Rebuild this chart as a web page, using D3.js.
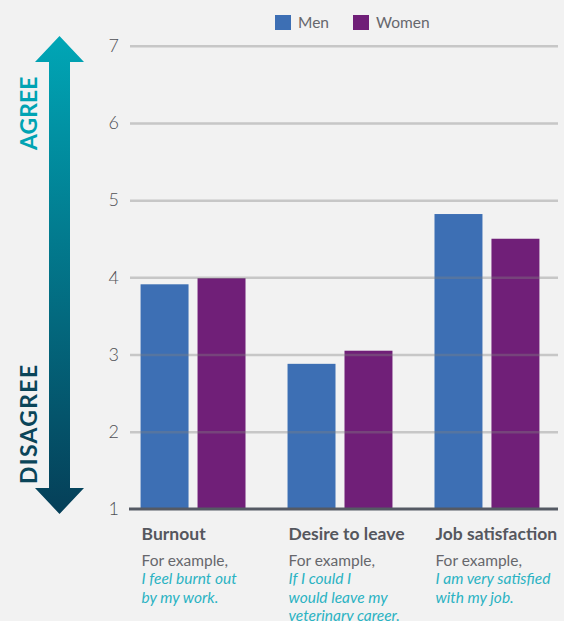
<!DOCTYPE html>
<html>
<head>
<meta charset="utf-8">
<script src="https://cdn.jsdelivr.net/npm/d3@7"></script>
<style>
  html, body { margin: 0; padding: 0; background: #f2f2f2; }
  svg { display: block; font-family: Lato, "Open Sans", sans-serif; }
</style>
</head>
<body>
<svg width="564" height="621"></svg>
<script>
  var categories = ["Burnout", "Desire to leave", "Job satisfaction"];
  var series = ["Men", "Women"];
  var men = [3.91, 2.88, 4.82];
  var women = [3.99, 3.05, 4.50];
  var yTicks = [1, 2, 3, 4, 5, 6, 7];
  var examples = [
    ["I feel burnt out", "by my work."],
    ["If I could I", "would leave my", "veterinary career."],
    ["I am very satisfied", "with my job."]
  ];

  var colors = { Men: "#3d6fb4", Women: "#701f78" };

  var svg = d3.select("svg");

  var x0 = d3.scaleBand().domain(categories).range([120, 560]).paddingInner(0.286).paddingOuter(0.14);
  var x1 = d3.scaleBand().domain(series).range([0, x0.bandwidth()]).paddingInner(0.158);
  var y = d3.scaleLinear().domain([1, 7]).range([509, 45.7]);

  var rows = categories.map(function(c, i) { return { cat: c, values: [men[i], women[i]] }; });

  // bars
  var groups = svg.selectAll("g.group").data(rows).enter()
      .append("g")
      .attr("transform", function(d) { return "translate(" + x0(d.cat) + ",0)"; });

  groups.selectAll("rect").data(function(d) { return d.values.map(function(v, i) { return { s: series[i], v: v }; }); })
      .enter().append("rect")
      .attr("x", function(d) { return x1(d.s); })
      .attr("y", function(d) { return y(d.v); })
      .attr("width", x1.bandwidth())
      .attr("height", function(d) { return y(1) - y(d.v); })
      .attr("fill", function(d) { return colors[d.s]; });

  // gridlines over the bars, see-through
  var yAxis = d3.axisLeft(y).tickValues(yTicks).tickSize(-428).tickPadding(11).tickFormat(d3.format("d"));
  var ga = svg.append("g").attr("transform", "translate(130,0)").call(yAxis);
  ga.select(".domain").remove();
  ga.selectAll(".tick line")
      .attr("stroke", "#808080")
      .attr("stroke-opacity", function(d) { return d === 1 ? 0 : 0.38; })
      .attr("stroke-width", 2.5);
  ga.selectAll(".tick text")
      .attr("fill", "#4f5055")
      .attr("font-size", 18)
      .attr("font-weight", 300)
      .attr("font-family", "Lato, sans-serif");

  // baseline
  svg.append("line")
      .attr("x1", 129).attr("x2", 558)
      .attr("y1", y(1)).attr("y2", y(1))
      .attr("stroke", "#555a64")
      .attr("stroke-width", 3);

  // legend
  var legend = svg.append("g").selectAll("g").data(series).enter()
      .append("g")
      .attr("transform", function(d, i) { return "translate(" + (275 + i * 78) + ",15)"; });
  legend.append("rect").attr("width", 16).attr("height", 15).attr("fill", function(d) { return colors[d]; });
  legend.append("text")
      .attr("x", 23).attr("y", 13)
      .attr("font-size", 15.5)
      .attr("fill", "#66676c")
      .text(function(d) { return d; });

  // category labels
  var labels = svg.append("g").selectAll("g").data(rows).enter()
      .append("g")
      .attr("transform", function(d) { return "translate(" + (x0(d.cat) + 1) + ",0)"; });
  labels.append("text")
      .attr("y", 540)
      .attr("font-size", 17.5)
      .attr("font-weight", "bold")
      .attr("fill", "#55575e")
      .text(function(d) { return d.cat; });
  labels.append("text")
      .attr("y", 566)
      .attr("font-size", 15.5)
      .attr("fill", "#66676c")
      .text("For example,");
  labels.each(function(d, i) {
    d3.select(this).selectAll("text.ex").data(examples[i]).enter()
        .append("text")
        .attr("class", "ex")
        .attr("y", function(t, j) { return 584 + j * 18.5; })
        .attr("font-size", 15.5)
        .attr("font-style", "italic")
        .attr("fill", "#2bb2c3")
        .text(function(t) { return t; });
  });

  // agree / disagree arrow
  var grad = svg.append("defs").append("linearGradient")
      .attr("id", "arrowGrad")
      .attr("x1", 0).attr("y1", 0).attr("x2", 0).attr("y2", 1);
  grad.append("stop").attr("offset", "0%").attr("stop-color", "#00a6b6");
  grad.append("stop").attr("offset", "100%").attr("stop-color", "#053f58");

  var ax = 59.5, tipTop = 36, tipBot = 514, headH = 26, headW = 24.5, shaftW = 10.5;
  svg.append("path")
      .attr("fill", "url(#arrowGrad)")
      .attr("d", [
        "M", ax, tipTop,
        "L", ax + headW, tipTop + headH,
        "L", ax + shaftW, tipTop + headH,
        "L", ax + shaftW, tipBot - headH,
        "L", ax + headW, tipBot - headH,
        "L", ax, tipBot,
        "L", ax - headW, tipBot - headH,
        "L", ax - shaftW, tipBot - headH,
        "L", ax - shaftW, tipTop + headH,
        "L", ax - headW, tipTop + headH,
        "Z"
      ].join(" "));

  svg.append("text")
      .attr("transform", "translate(37,150) rotate(-90)")
      .attr("font-size", 23)
      .attr("font-weight", "bold")
      .attr("fill", "#00a3b3")
      .text("AGREE");
  svg.append("text")
      .attr("transform", "translate(37,484) rotate(-90)")
      .attr("font-size", 23)
      .attr("font-weight", "bold")
      .attr("letter-spacing", 1.3)
      .attr("fill", "#0b4559")
      .text("DISAGREE");
</script>
</body>
</html>
